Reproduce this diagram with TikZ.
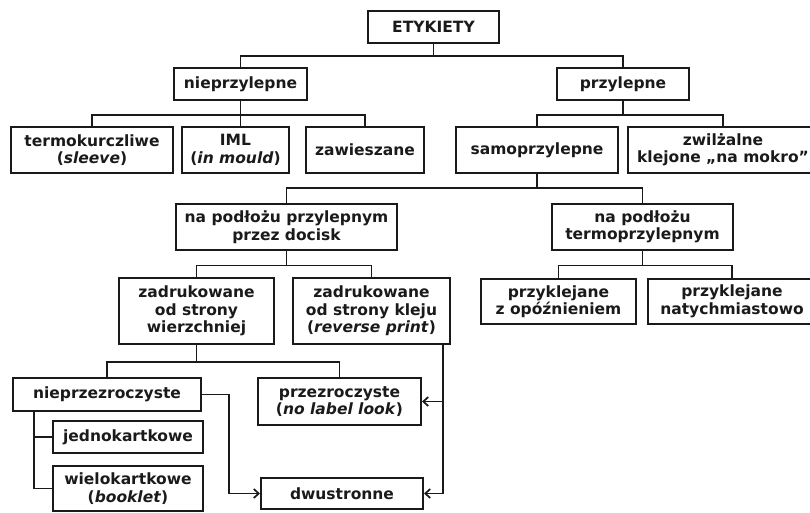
\documentclass[tikz,border=0pt]{standalone}
\usepackage{fontspec}
\setmainfont{DejaVu Sans}
\usetikzlibrary{arrows.meta,calc}
\definecolor{ink}{HTML}{1A1A1A}
\begin{document}
\begin{tikzpicture}[x=1pt,y=-1pt,
  box/.style={draw=ink, line width=2pt, align=center, text=ink,
    font=\fontsize{15.5}{17.5}\selectfont\bfseries, inner sep=1pt},
  conn/.style={draw=ink, line width=1.9pt},
  arr/.style={conn, -{Straight Barb[length=5pt,width=9pt,line width=1.7pt]}}]
\path[use as bounding box] (0,0) rectangle (810,512);
\clip (0,0) rectangle (810,512);

\node[box,minimum width=131pt,minimum height=32pt] (ety) at (433.5,27) {ETYKIETY};
\node[box,minimum width=133pt,minimum height=32pt] (niep) at (240.5,84) {nieprzylepne};
\node[box,minimum width=132pt,minimum height=32pt] (przy) at (623,84) {przylepne};
\node[box,minimum width=162pt,minimum height=46pt] (termo) at (92,150) {termokurczliwe\\(\textit{sleeve})};
\node[box,minimum width=107pt,minimum height=46pt] (iml) at (235.5,150) {IML\\(\textit{in mould})};
\node[box,minimum width=118pt,minimum height=46pt] (zaw) at (365,150) {zawieszane};
\node[box,minimum width=162pt,minimum height=46pt] (samo) at (537,150) {samoprzylepne};
\node[box,minimum width=190pt,minimum height=46pt] (zwil) at (723,150) {zwilżalne\\klejone „na mokro”};
\node[box,minimum width=221pt,minimum height=46pt] (pp) at (286.5,227) {na podłożu przylepnym\\przez docisk};
\node[box,minimum width=181pt,minimum height=46pt] (pt) at (642.5,227) {na podłożu\\termoprzylepnym};
\node[box,minimum width=155pt,minimum height=66pt] (zw) at (196.5,311) {zadrukowane\\od strony\\wierzchniej};
\node[box,minimum width=157pt,minimum height=66pt] (zk) at (371.5,311) {zadrukowane\\od strony kleju\\(\textit{reverse print})};
\node[box,minimum width=155pt,minimum height=45pt] (op) at (558.5,301.5) {przyklejane\\z opóźnieniem};
\node[box,minimum width=168pt,minimum height=45pt] (nat) at (732,301.5) {przyklejane\\natychmiastowo};
\node[box,minimum width=188pt,minimum height=33pt] (nprz) at (107,394.5) {nieprzezroczyste};
\node[box,minimum width=163pt,minimum height=47pt] (prz) at (339.5,401.5) {przezroczyste\\(\textit{no label look})};
\node[box,minimum width=150pt,minimum height=32pt] (jed) at (128,437) {jednokartkowe};
\node[box,minimum width=150pt,minimum height=45pt] (wiel) at (128,488.5) {wielokartkowe\\(\textit{booklet})};
\node[box,minimum width=162pt,minimum height=31pt] (dwu) at (342,493.5) {dwustronne};

% buses
\coordinate (b0) at (0,56);
\coordinate (b1) at (0,115);
\coordinate (b2) at (0,188);
\coordinate (b3) at (0,265.5);
\coordinate (b4) at (0,362);
\coordinate (lx) at (34,0);
\coordinate (rx) at (229,0);
\coordinate (kx) at (443,0);

\draw[conn] (ety.south) -- (ety.south |- b0) -| (niep.north);
\draw[conn] (ety.south |- b0) -| (przy.north);

\draw[conn] (niep.south) -- (niep.south |- iml.north);
\draw[conn] (niep.south |- b1) -| (termo.north);
\draw[conn] (niep.south |- b1) -| (zaw.north);

\draw[conn] (przy.south) -- (przy.south |- b1) -| (samo.north);
\draw[conn] (przy.south |- b1) -| (zwil.north);

\draw[conn] (samo.south) -- (samo.south |- b2) -| (pp.north);
\draw[conn] (samo.south |- b2) -| (pt.north);

\draw[conn] (pp.south) -- (pp.south |- b3) -| (zw.north);
\draw[conn] (pp.south |- b3) -| (zk.north);

\draw[conn] (pt.south) -- (pt.south |- b3) -| (op.north);
\draw[conn] (pt.south |- b3) -| (nat.north);

\draw[conn] (zw.south) -- (zw.south |- b4) -| (nprz.north);
\draw[conn] (zw.south |- b4) -| (prz.north);

\draw[conn] (nprz.south -| lx) |- (wiel.west);
\draw[conn] (jed.west -| lx) -- (jed.west);

\draw[arr] (nprz.east) -| (rx |- dwu.west) -- (dwu.west);
\draw[arr] (zk.south -| kx) |- (dwu.east);
\draw[arr] (prz.east -| kx) -- (prz.east);
\end{tikzpicture}
\end{document}
